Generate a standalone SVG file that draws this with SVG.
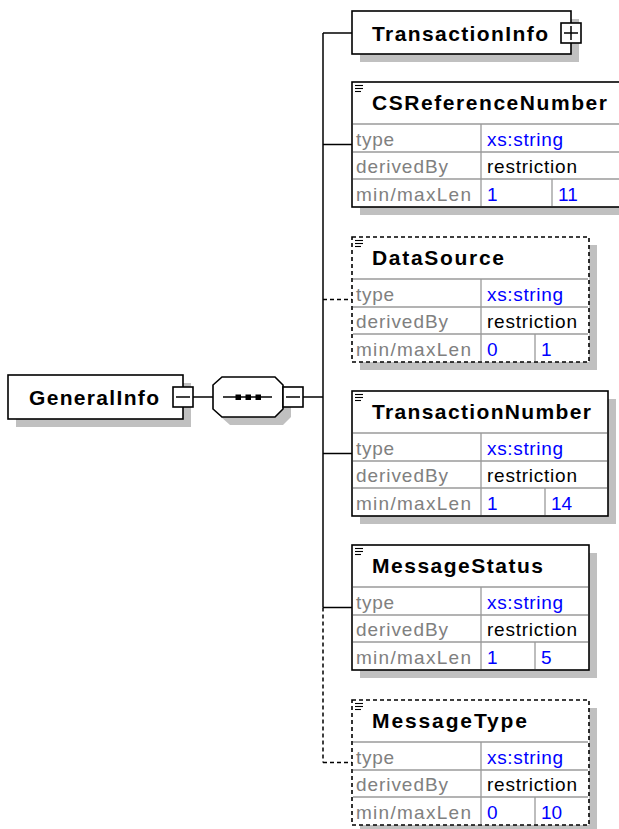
<svg xmlns="http://www.w3.org/2000/svg" width="619" height="829" viewBox="0 0 619 829">
<style>
.bg{fill:#ffffff}
.sh{fill:#c0c0c0}
.box{fill:#ffffff;stroke:#000000;stroke-width:1.6}
.opt{fill:#ffffff;stroke:#000000;stroke-width:1.6;stroke-dasharray:4 3}
.grid{stroke:#9a9a9a;stroke-width:1.3;fill:none}
.ln{stroke:#000000;stroke-width:1.5;fill:none}
.dl{stroke:#000000;stroke-width:1.5;fill:none;stroke-dasharray:4 3}
.ic{stroke:#000000;stroke-width:1.1}
.nm{font-family:"Liberation Sans",Arial,sans-serif;font-weight:bold;font-size:21px;fill:#000000}
.lb{font-family:"Liberation Sans",Arial,sans-serif;font-size:19px;fill:#808080}
.vb{font-family:"Liberation Sans",Arial,sans-serif;font-size:19px;fill:#0000ff}
.vk{font-family:"Liberation Sans",Arial,sans-serif;font-size:19px;fill:#000000}
</style>
<rect class="bg" x="0" y="0" width="619" height="829"/>

<g id="connectors">
  <line class="ln" x1="193" y1="397" x2="213" y2="397"/>
  <line class="ln" x1="303" y1="397" x2="323" y2="397"/>
  <line class="ln" x1="323" y1="33" x2="323" y2="607.5"/>
  <line class="dl" x1="323" y1="607.5" x2="323" y2="762.5"/>
  <line class="ln" x1="323" y1="33" x2="352" y2="33"/>
  <line class="ln" x1="323" y1="144.5" x2="352" y2="144.5"/>
  <line class="dl" x1="323" y1="299.5" x2="352" y2="299.5"/>
  <line class="ln" x1="323" y1="453.5" x2="352" y2="453.5"/>
  <line class="ln" x1="323" y1="607.5" x2="352" y2="607.5"/>
  <line class="dl" x1="323" y1="762.5" x2="352" y2="762.5"/>
</g>

<g id="node-GeneralInfo">
  <rect class="sh" x="16" y="383" width="175" height="44"/>
  <rect class="box" x="8" y="375" width="175" height="44"/>
  <text class="nm" x="29" y="405" textLength="130" lengthAdjust="spacing">GeneralInfo</text>
  <rect class="box" x="173" y="387" width="20" height="20"/>
  <line class="ln" x1="176" y1="397" x2="190" y2="397"/>
</g>

<g id="node-sequence">
  <polygon class="sh" points="230,385 283,385 291,393 291,417 283,425 230,425 221,417 221,393"/>
  <polygon class="box" points="222,377 275,377 283,385 283,409 275,417 222,417 213,409 213,385"/>
  <line class="ln" x1="223" y1="397" x2="272" y2="397"/>
  <rect x="235.5" y="394.5" width="5.5" height="5.5" fill="#000"/>
  <rect x="245.5" y="394.5" width="5.5" height="5.5" fill="#000"/>
  <rect x="255.5" y="394.5" width="5.5" height="5.5" fill="#000"/>
  <rect class="box" x="283" y="387" width="20" height="20"/>
  <line class="ln" x1="286" y1="397" x2="300" y2="397"/>
</g>

<g id="node-TransactionInfo">
  <rect class="sh" x="360" y="19" width="219" height="43"/>
  <rect class="box" x="352" y="11" width="219" height="43"/>
  <text class="nm" x="372" y="41" textLength="176" lengthAdjust="spacing">TransactionInfo</text>
  <rect class="box" x="561" y="23" width="20" height="20"/>
  <line class="ln" x1="564" y1="33" x2="578" y2="33"/>
  <line class="ln" x1="571" y1="26" x2="571" y2="40"/>
</g>

<g id="node-CSReferenceNumber">
  <rect class="sh" x="360" y="90" width="271" height="125"/>
  <rect class="box" x="352" y="82" width="271" height="125"/>
  <line class="ic" x1="355" y1="85.5" x2="363" y2="85.5"/>
  <line class="ic" x1="355" y1="88.5" x2="363" y2="88.5"/>
  <line class="ic" x1="355" y1="91.5" x2="361" y2="91.5"/>
  <text class="nm" x="372" y="110" textLength="235" lengthAdjust="spacing">CSReferenceNumber</text>
  <path class="grid" d="M353,124H622M353,152H622M353,179H622M481,124V206M552,179V206"/>
  <text class="lb" x="356" y="146" textLength="38" lengthAdjust="spacing">type</text>
  <text class="lb" x="356" y="173" textLength="92" lengthAdjust="spacing">derivedBy</text>
  <text class="lb" x="356" y="201" textLength="115" lengthAdjust="spacing">min/maxLen</text>
  <text class="vb" x="487" y="146" textLength="76" lengthAdjust="spacing">xs:string</text>
  <text class="vk" x="487" y="173" textLength="90" lengthAdjust="spacing">restriction</text>
  <text class="vb" x="487" y="201">1</text>
  <text class="vb" x="558" y="201">11</text>
</g>

<g id="node-DataSource">
  <rect class="sh" x="360" y="245" width="237" height="125"/>
  <rect class="opt" x="352" y="237" width="237" height="125"/>
  <line class="ic" x1="355" y1="240.5" x2="363" y2="240.5"/>
  <line class="ic" x1="355" y1="243.5" x2="363" y2="243.5"/>
  <line class="ic" x1="355" y1="246.5" x2="361" y2="246.5"/>
  <text class="nm" x="372" y="265" textLength="132" lengthAdjust="spacing">DataSource</text>
  <path class="grid" d="M353,279H588M353,307H588M353,334H588M481,279V361M535,334V361"/>
  <text class="lb" x="356" y="301" textLength="38" lengthAdjust="spacing">type</text>
  <text class="lb" x="356" y="328" textLength="92" lengthAdjust="spacing">derivedBy</text>
  <text class="lb" x="356" y="356" textLength="115" lengthAdjust="spacing">min/maxLen</text>
  <text class="vb" x="487" y="301" textLength="76" lengthAdjust="spacing">xs:string</text>
  <text class="vk" x="487" y="328" textLength="90" lengthAdjust="spacing">restriction</text>
  <text class="vb" x="487" y="356">0</text>
  <text class="vb" x="541" y="356">1</text>
</g>

<g id="node-TransactionNumber">
  <rect class="sh" x="360" y="399" width="256" height="125"/>
  <rect class="box" x="352" y="391" width="256" height="125"/>
  <line class="ic" x1="355" y1="394.5" x2="363" y2="394.5"/>
  <line class="ic" x1="355" y1="397.5" x2="363" y2="397.5"/>
  <line class="ic" x1="355" y1="400.5" x2="361" y2="400.5"/>
  <text class="nm" x="372" y="419" textLength="219" lengthAdjust="spacing">TransactionNumber</text>
  <path class="grid" d="M353,433H607M353,461H607M353,488H607M481,433V515M545,488V515"/>
  <text class="lb" x="356" y="455" textLength="38" lengthAdjust="spacing">type</text>
  <text class="lb" x="356" y="482" textLength="92" lengthAdjust="spacing">derivedBy</text>
  <text class="lb" x="356" y="510" textLength="115" lengthAdjust="spacing">min/maxLen</text>
  <text class="vb" x="487" y="455" textLength="76" lengthAdjust="spacing">xs:string</text>
  <text class="vk" x="487" y="482" textLength="90" lengthAdjust="spacing">restriction</text>
  <text class="vb" x="487" y="510">1</text>
  <text class="vb" x="551" y="510">14</text>
</g>

<g id="node-MessageStatus">
  <rect class="sh" x="360" y="553" width="237" height="125"/>
  <rect class="box" x="352" y="545" width="237" height="125"/>
  <line class="ic" x1="355" y1="548.5" x2="363" y2="548.5"/>
  <line class="ic" x1="355" y1="551.5" x2="363" y2="551.5"/>
  <line class="ic" x1="355" y1="554.5" x2="361" y2="554.5"/>
  <text class="nm" x="372" y="573" textLength="171" lengthAdjust="spacing">MessageStatus</text>
  <path class="grid" d="M353,587H588M353,615H588M353,642H588M481,587V669M535,642V669"/>
  <text class="lb" x="356" y="609" textLength="38" lengthAdjust="spacing">type</text>
  <text class="lb" x="356" y="636" textLength="92" lengthAdjust="spacing">derivedBy</text>
  <text class="lb" x="356" y="664" textLength="115" lengthAdjust="spacing">min/maxLen</text>
  <text class="vb" x="487" y="609" textLength="76" lengthAdjust="spacing">xs:string</text>
  <text class="vk" x="487" y="636" textLength="90" lengthAdjust="spacing">restriction</text>
  <text class="vb" x="487" y="664">1</text>
  <text class="vb" x="541" y="664">5</text>
</g>

<g id="node-MessageType">
  <rect class="sh" x="360" y="708" width="237" height="125"/>
  <rect class="opt" x="352" y="700" width="237" height="125"/>
  <line class="ic" x1="355" y1="703.5" x2="363" y2="703.5"/>
  <line class="ic" x1="355" y1="706.5" x2="363" y2="706.5"/>
  <line class="ic" x1="355" y1="709.5" x2="361" y2="709.5"/>
  <text class="nm" x="372" y="728" textLength="155" lengthAdjust="spacing">MessageType</text>
  <path class="grid" d="M353,742H588M353,770H588M353,797H588M481,742V824M535,797V824"/>
  <text class="lb" x="356" y="764" textLength="38" lengthAdjust="spacing">type</text>
  <text class="lb" x="356" y="791" textLength="92" lengthAdjust="spacing">derivedBy</text>
  <text class="lb" x="356" y="819" textLength="115" lengthAdjust="spacing">min/maxLen</text>
  <text class="vb" x="487" y="764" textLength="76" lengthAdjust="spacing">xs:string</text>
  <text class="vk" x="487" y="791" textLength="90" lengthAdjust="spacing">restriction</text>
  <text class="vb" x="487" y="819">0</text>
  <text class="vb" x="541" y="819">10</text>
</g>
</svg>
